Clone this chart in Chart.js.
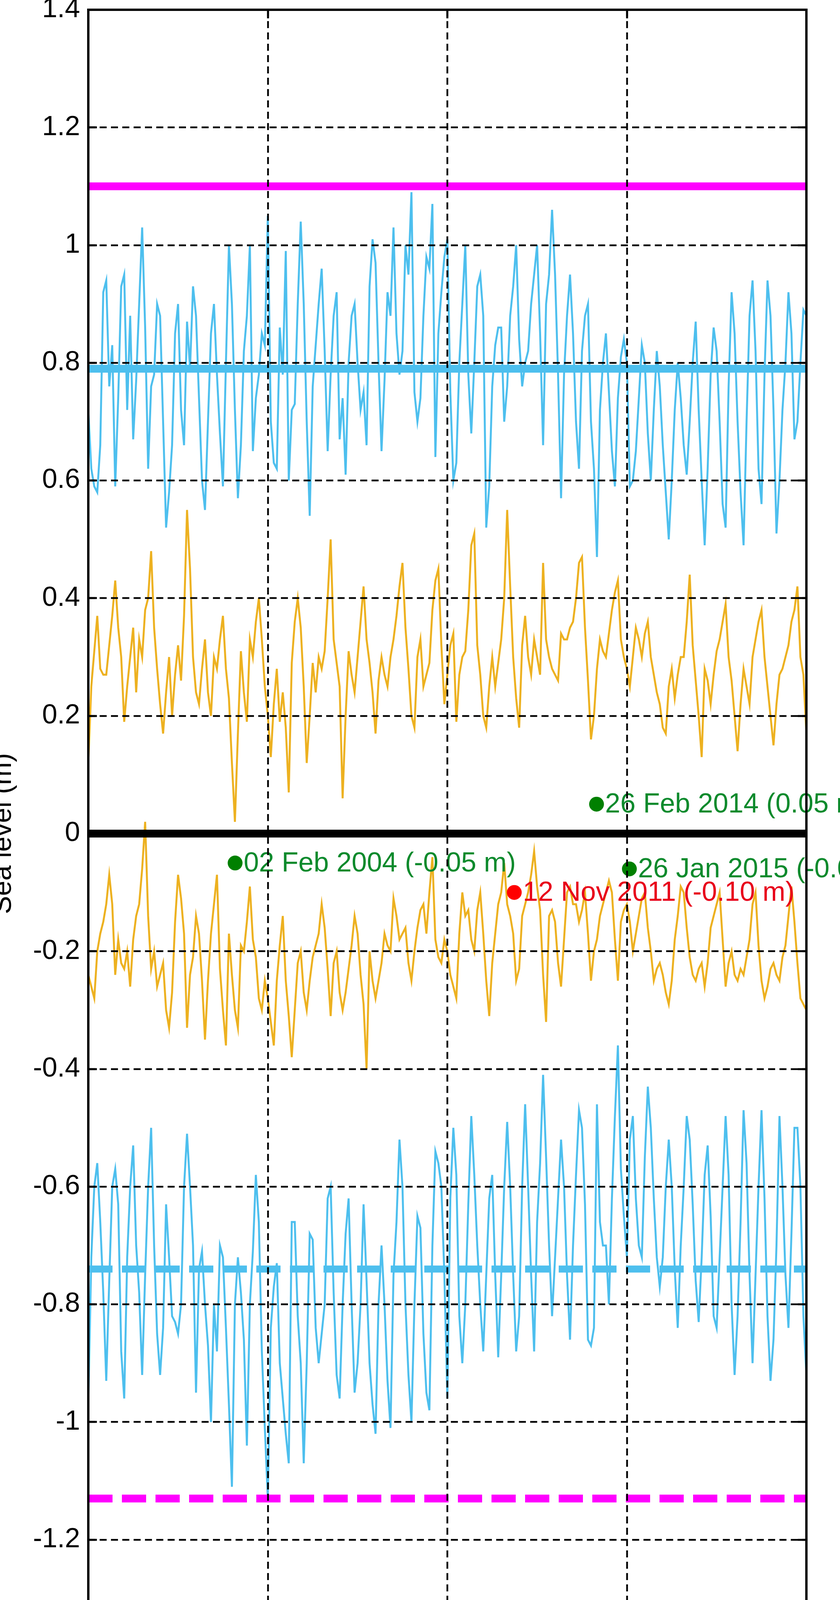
<!DOCTYPE html>
<html>
<head>
<meta charset="utf-8">
<title>Sea level</title>
<script src="https://cdn.jsdelivr.net/npm/chart.js@4.4.0/dist/chart.umd.min.js"></script>
<style>
  html, body { margin: 0; padding: 0; background: #fff; overflow: hidden; }
  canvas { display: block; }
</style>
</head>
<body>
<canvas id="seaChart" width="2150" height="4434"></canvas>
<script>
// axis ticks
const xTicks = [2000, 2005, 2010, 2015, 2020];
const yTicks = [-1.4, -1.2, -1, -0.8, -0.6, -0.4, -0.2, 0, 0.2, 0.4, 0.6, 0.8, 1, 1.2, 1.4];

// monthly values, Jan 2000 .. Jan 2020 (one row per year)
const startYear = 2000;
const highTide = [
  0.72, 0.62, 0.59, 0.58, 0.66, 0.92, 0.94, 0.76, 0.83, 0.59, 0.74, 0.93,
  0.95, 0.72, 0.88, 0.67, 0.77, 0.90, 1.03, 0.86, 0.62, 0.76, 0.78, 0.90,
  0.88, 0.70, 0.52, 0.58, 0.66, 0.85, 0.90, 0.72, 0.66, 0.87, 0.79, 0.93,
  0.88, 0.74, 0.60, 0.55, 0.70, 0.85, 0.90, 0.78, 0.68, 0.59, 0.80, 1.00,
  0.90, 0.72, 0.57, 0.66, 0.82, 0.88, 1.00, 0.65, 0.74, 0.78, 0.85, 0.83,
  1.05, 0.70, 0.63, 0.62, 0.86, 0.78, 0.99, 0.60, 0.72, 0.73, 0.90, 1.04,
  0.90, 0.70, 0.54, 0.76, 0.83, 0.90, 0.96, 0.82, 0.65, 0.78, 0.88, 0.92,
  0.67, 0.74, 0.61, 0.80, 0.88, 0.90, 0.80, 0.72, 0.75, 0.66, 0.93, 1.01,
  0.97, 0.80, 0.65, 0.77, 0.92, 0.88, 1.03, 0.85, 0.78, 0.82, 1.00, 0.95,
  1.09, 0.75, 0.70, 0.74, 0.88, 0.98, 0.96, 1.07, 0.64, 0.85, 0.92, 0.98,
  1.01, 0.75, 0.60, 0.63, 0.80, 0.90, 1.00, 0.78, 0.68, 0.80, 0.93, 0.95,
  0.88, 0.52, 0.59, 0.76, 0.83, 0.86, 0.86, 0.70, 0.76, 0.88, 0.93, 1.00,
  0.84, 0.76, 0.80, 0.82, 0.90, 0.95, 1.00, 0.85, 0.66, 0.90, 0.95, 1.06,
  0.95, 0.78, 0.57, 0.78, 0.88, 0.95, 0.85, 0.70, 0.62, 0.82, 0.88, 0.90,
  0.70, 0.62, 0.47, 0.72, 0.80, 0.85, 0.75, 0.65, 0.59, 0.74, 0.81, 0.84,
  0.80, 0.59, 0.60, 0.65, 0.74, 0.83, 0.80, 0.68, 0.60, 0.72, 0.82, 0.76,
  0.66, 0.58, 0.50, 0.60, 0.72, 0.80, 0.74, 0.66, 0.61, 0.70, 0.80, 0.87,
  0.72, 0.60, 0.49, 0.62, 0.78, 0.86, 0.82, 0.70, 0.56, 0.52, 0.76, 0.92,
  0.85, 0.70, 0.58, 0.49, 0.70, 0.88, 0.94, 0.82, 0.62, 0.56, 0.78, 0.94,
  0.88, 0.72, 0.51, 0.60, 0.72, 0.80, 0.92, 0.85, 0.67, 0.70, 0.80, 0.89,
  0.88
];
const highMean = [
  0.12, 0.25, 0.31, 0.37, 0.28, 0.27, 0.27, 0.32, 0.37, 0.43, 0.35, 0.30,
  0.19, 0.25, 0.30, 0.35, 0.24, 0.33, 0.30, 0.38, 0.40, 0.48, 0.35, 0.28,
  0.22, 0.17, 0.24, 0.30, 0.20, 0.27, 0.32, 0.26, 0.37, 0.55, 0.45, 0.30,
  0.24, 0.22, 0.28, 0.33, 0.24, 0.20, 0.30, 0.28, 0.33, 0.37, 0.28, 0.23,
  0.12, 0.02, 0.17, 0.31, 0.24, 0.19, 0.33, 0.30, 0.36, 0.40, 0.33, 0.25,
  0.20, 0.13, 0.22, 0.28, 0.19, 0.24, 0.18, 0.07, 0.29, 0.36, 0.40, 0.35,
  0.25, 0.12, 0.20, 0.29, 0.24, 0.30, 0.28, 0.31, 0.40, 0.50, 0.33, 0.29,
  0.25, 0.06, 0.20, 0.31, 0.27, 0.24, 0.30, 0.36, 0.42, 0.33, 0.29, 0.24,
  0.17, 0.26, 0.30, 0.27, 0.25, 0.30, 0.33, 0.37, 0.42, 0.46, 0.35, 0.28,
  0.20, 0.18, 0.30, 0.33, 0.25, 0.27, 0.29, 0.38, 0.43, 0.45, 0.32, 0.22,
  0.27, 0.32, 0.34, 0.19, 0.27, 0.30, 0.31, 0.38, 0.49, 0.51, 0.32, 0.27,
  0.20, 0.18, 0.25, 0.30, 0.25, 0.29, 0.33, 0.40, 0.55, 0.42, 0.30, 0.23,
  0.18, 0.32, 0.37, 0.30, 0.27, 0.33, 0.30, 0.27, 0.46, 0.33, 0.30, 0.28,
  0.27, 0.26, 0.34, 0.33, 0.33, 0.35, 0.36, 0.40, 0.46, 0.47, 0.35, 0.26,
  0.16, 0.20, 0.28, 0.33, 0.31, 0.30, 0.34, 0.38, 0.41, 0.43, 0.33, 0.30,
  0.28, 0.25, 0.30, 0.35, 0.33, 0.30, 0.34, 0.36, 0.30, 0.27, 0.24, 0.22,
  0.18, 0.17, 0.25, 0.28, 0.23, 0.27, 0.30, 0.30, 0.36, 0.44, 0.32, 0.26,
  0.20, 0.13, 0.28, 0.26, 0.22, 0.27, 0.31, 0.33, 0.36, 0.39, 0.30, 0.26,
  0.20, 0.14, 0.22, 0.28, 0.25, 0.22, 0.30, 0.33, 0.36, 0.38, 0.30, 0.25,
  0.20, 0.15, 0.22, 0.27, 0.28, 0.30, 0.32, 0.36, 0.38, 0.42, 0.30, 0.27,
  0.17
];
const lowMean = [
  -0.24, -0.26, -0.28, -0.20, -0.17, -0.15, -0.12, -0.07, -0.12, -0.24, -0.18, -0.22,
  -0.23, -0.20, -0.26, -0.18, -0.14, -0.12, -0.06, 0.02, -0.14, -0.23, -0.20, -0.26,
  -0.24, -0.22, -0.30, -0.33, -0.27, -0.15, -0.07, -0.11, -0.17, -0.33, -0.24, -0.21,
  -0.14, -0.17, -0.25, -0.35, -0.25, -0.17, -0.12, -0.07, -0.23, -0.30, -0.36, -0.17,
  -0.24, -0.30, -0.33, -0.19, -0.20, -0.15, -0.09, -0.18, -0.21, -0.28, -0.30, -0.25,
  -0.28, -0.32, -0.36, -0.25, -0.19, -0.14, -0.25, -0.31, -0.38, -0.30, -0.22, -0.20,
  -0.27, -0.30, -0.25, -0.21, -0.19, -0.17, -0.12, -0.16, -0.23, -0.31, -0.22, -0.20,
  -0.27, -0.30, -0.27, -0.23, -0.19, -0.14, -0.17, -0.24, -0.29, -0.40, -0.20, -0.25,
  -0.28, -0.25, -0.22, -0.17, -0.19, -0.20, -0.11, -0.14, -0.18, -0.17, -0.16, -0.22,
  -0.25, -0.20, -0.16, -0.13, -0.12, -0.17, -0.10, -0.04, -0.18, -0.21, -0.22, -0.18,
  -0.20, -0.24, -0.26, -0.28, -0.17, -0.10, -0.14, -0.13, -0.18, -0.20, -0.13, -0.10,
  -0.17, -0.25, -0.31, -0.22, -0.17, -0.12, -0.10, -0.05, -0.12, -0.14, -0.17, -0.25,
  -0.23, -0.14, -0.12, -0.10, -0.07, -0.03, -0.09, -0.13, -0.24, -0.32, -0.14, -0.13,
  -0.15, -0.22, -0.26, -0.18, -0.10, -0.09, -0.12, -0.12, -0.15, -0.13, -0.10, -0.17,
  -0.25, -0.20, -0.18, -0.14, -0.12, -0.10, -0.08, -0.10, -0.18, -0.25, -0.15, -0.13,
  -0.12, -0.15, -0.20, -0.17, -0.14, -0.11, -0.10, -0.16, -0.20, -0.25, -0.23, -0.22,
  -0.24, -0.27, -0.29, -0.25, -0.18, -0.14, -0.09, -0.10, -0.16, -0.21, -0.24, -0.25,
  -0.23, -0.22, -0.26, -0.22, -0.16, -0.14, -0.12, -0.10, -0.18, -0.26, -0.22, -0.20,
  -0.24, -0.25, -0.23, -0.24, -0.21, -0.18, -0.12, -0.10, -0.19, -0.25, -0.28, -0.26,
  -0.23, -0.22, -0.24, -0.25, -0.21, -0.19, -0.14, -0.09, -0.15, -0.22, -0.28, -0.29,
  -0.30
];
const lowTide = [
  -0.97, -0.72, -0.60, -0.56, -0.66, -0.78, -0.93, -0.76, -0.60, -0.57, -0.63, -0.88,
  -0.96, -0.72, -0.60, -0.53, -0.70, -0.78, -0.92, -0.75, -0.60, -0.50, -0.70, -0.85,
  -0.92, -0.84, -0.63, -0.72, -0.82, -0.83, -0.85, -0.80, -0.60, -0.51, -0.60, -0.70,
  -0.95, -0.74, -0.71, -0.80, -0.87, -1.00, -0.80, -0.88, -0.70, -0.72, -0.84, -0.97,
  -1.11, -0.80, -0.72, -0.78, -0.86, -1.04, -0.80, -0.71, -0.58, -0.66, -0.88, -1.01,
  -1.13, -0.84, -0.77, -0.73, -0.90, -0.96, -1.02, -1.07, -0.66, -0.66, -0.82, -0.90,
  -1.07, -0.90, -0.68, -0.69, -0.84, -0.90, -0.85, -0.80, -0.62, -0.60, -0.78, -0.92,
  -0.96, -0.80, -0.68, -0.62, -0.80, -0.95, -0.90, -0.80, -0.63, -0.76, -0.90, -0.97,
  -1.02, -0.80, -0.70, -0.80, -0.93, -1.01, -0.75, -0.66, -0.52, -0.60, -0.80, -0.92,
  -1.00, -0.80, -0.65, -0.67, -0.85, -0.95, -0.98, -0.70, -0.54, -0.56, -0.60, -0.75,
  -0.96, -0.62, -0.50, -0.58, -0.82, -0.90, -0.80, -0.63, -0.48, -0.58, -0.70, -0.80,
  -0.88, -0.75, -0.62, -0.58, -0.75, -0.89, -0.75, -0.60, -0.49, -0.60, -0.75, -0.88,
  -0.82, -0.60, -0.46, -0.60, -0.75, -0.88, -0.66, -0.56, -0.41, -0.55, -0.70, -0.82,
  -0.72, -0.62, -0.52, -0.60, -0.75, -0.86, -0.70, -0.58, -0.47, -0.50, -0.63, -0.86,
  -0.87, -0.84, -0.46, -0.66, -0.70, -0.70, -0.80, -0.62, -0.48, -0.36, -0.57, -0.65,
  -0.72, -0.52, -0.48, -0.62, -0.70, -0.72, -0.55, -0.43, -0.50, -0.62, -0.72, -0.77,
  -0.72, -0.60, -0.52, -0.60, -0.74, -0.84, -0.70, -0.60, -0.48, -0.52, -0.63, -0.76,
  -0.83, -0.72, -0.58, -0.53, -0.65, -0.82, -0.84, -0.72, -0.60, -0.48, -0.58, -0.80,
  -0.92, -0.82, -0.66, -0.47, -0.56, -0.75, -0.90, -0.75, -0.60, -0.47, -0.62, -0.82,
  -0.93, -0.86, -0.70, -0.48, -0.60, -0.75, -0.84, -0.68, -0.50, -0.50, -0.60, -0.82,
  -0.92
];

// reference levels (m)
const upperLimit = 1.10;
const meanHigh = 0.79;
const zeroLevel = 0;
const meanLow = -0.74;
const lowerLimit = -1.13;

// marked events
const eventDates = ['2004-02-02', '2014-02-26', '2015-01-26', '2011-11-12'];
const eventValues = [-0.05, 0.05, -0.06, -0.10];
const eventLabels = ['02 Feb 2004 (-0.05 m)', '26 Feb 2014 (0.05 m)', '26 Jan 2015 (-0.06 m)', '12 Nov 2011 (-0.10 m)'];
const eventIsRecord = [false, false, false, true];

const FONT = '"Liberation Sans", Arial, Helvetica, sans-serif';
const FS = 70;
const CYAN = '#4DBFEE';
const ORANGE = '#EDB120';
const MAGENTA = '#FF00FF';
const GREEN = '#008000';
const RED = '#FF0000';

function toDecimalYear(s) {
  const d = new Date(s + 'T12:00:00Z');
  const y = d.getUTCFullYear();
  const start = Date.UTC(y, 0, 1);
  const len = Date.UTC(y + 1, 0, 1) - start;
  return y + (d.getTime() - start) / len;
}

const monthly = arr => arr.map((v, i) => ({ x: startYear + i / 12, y: v }));
const level = v => [{ x: xTicks[0], y: v }, { x: xTicks[xTicks.length - 1], y: v }];
const eventX = eventDates.map(toDecimalYear);

function lineSet(data, color, width, dash) {
  return {
    type: 'line', data, borderColor: color, borderWidth: width,
    borderDash: dash || [], pointRadius: 0, tension: 0, fill: false
  };
}

const overlay = {
  id: 'overlay',
  afterDatasetsDraw(chart) {
    const { ctx, chartArea: a, scales: { x, y } } = chart;
    ctx.save();
    // event labels
    ctx.font = FS + 'px ' + FONT;
    ctx.textAlign = 'left';
    ctx.textBaseline = 'middle';
    eventLabels.forEach((t, i) => {
      ctx.fillStyle = eventIsRecord[i] ? '#E8001A' : '#0C8A2C';
      ctx.fillText(t, x.getPixelForValue(eventX[i]) + 22, y.getPixelForValue(eventValues[i]) + 2);
    });
    // dashed grid on top
    ctx.strokeStyle = '#000';
    ctx.lineWidth = 4.5;
    ctx.setLineDash([18, 11]);
    ctx.beginPath();
    xTicks.forEach(v => {
      const px = Math.round(x.getPixelForValue(v));
      ctx.moveTo(px, a.top); ctx.lineTo(px, a.bottom);
    });
    yTicks.forEach(v => {
      const py = Math.round(y.getPixelForValue(v));
      ctx.moveTo(a.left, py); ctx.lineTo(a.right, py);
    });
    ctx.stroke();
    ctx.setLineDash([]);
    // inward tick marks
    ctx.lineWidth = 5;
    ctx.beginPath();
    yTicks.forEach(v => {
      const py = Math.round(y.getPixelForValue(v));
      ctx.moveTo(a.left, py); ctx.lineTo(a.left + 22, py);
      ctx.moveTo(a.right, py); ctx.lineTo(a.right - 22, py);
    });
    xTicks.forEach(v => {
      const px = Math.round(x.getPixelForValue(v));
      ctx.moveTo(px, a.bottom); ctx.lineTo(px, a.bottom - 22);
      ctx.moveTo(px, a.top); ctx.lineTo(px, a.top + 22);
    });
    ctx.stroke();
    // frame
    ctx.lineWidth = 6;
    ctx.strokeRect(a.left, a.top, a.right - a.left, a.bottom - a.top);
    ctx.restore();
  },
  afterDraw(chart) {
    const { ctx, chartArea: a } = chart;
    ctx.save();
    ctx.fillStyle = '#000';
    ctx.font = FS + 'px ' + FONT;
    ctx.textAlign = 'center';
    ctx.textBaseline = 'alphabetic';
    ctx.fillText('Year', (a.left + a.right) / 2, 4415);
    ctx.translate(28, (a.top + a.bottom) / 2);
    ctx.rotate(-Math.PI / 2);
    ctx.fillText('Sea level (m)', 0, 0);
    ctx.restore();
  }
};

function pinScale(size, horizontal) {
  return scale => {
    if (horizontal) scale.height = size; else scale.width = size;
    scale.paddingTop = 0; scale.paddingBottom = 0;
    scale.paddingLeft = 0; scale.paddingRight = 0;
  };
}

const fmt = v => {
  const r = Math.round(v * 10) / 10;
  return (r === 0 ? 0 : r).toString();
};

new Chart(document.getElementById('seaChart').getContext('2d'), {
  data: {
    datasets: [
      {
        type: 'scatter',
        data: eventX.map((ex, i) => ({ x: ex, y: eventValues[i] })),
        pointRadius: 19, pointBorderWidth: 0,
        pointBackgroundColor: eventIsRecord.map(r => r ? RED : GREEN),
        clip: false
      },
      lineSet(level(zeroLevel), '#000', 20),
      lineSet(level(upperLimit), MAGENTA, 20),
      lineSet(level(lowerLimit), MAGENTA, 20, [62, 24]),
      lineSet(level(meanHigh), CYAN, 20),
      lineSet(level(meanLow), CYAN, 18, [62, 24]),
      lineSet(monthly(lowMean), ORANGE, 5),
      lineSet(monthly(highMean), ORANGE, 5),
      lineSet(monthly(lowTide), CYAN, 5),
      lineSet(monthly(highTide), CYAN, 5)
    ]
  },
  options: {
    responsive: false,
    animation: false,
    devicePixelRatio: 1,
    events: [],
    layout: { padding: { top: 25, right: 86, bottom: 0, left: 0 } },
    plugins: { legend: { display: false }, tooltip: { enabled: false } },
    scales: {
      x: {
        type: 'linear', min: xTicks[0], max: xTicks[xTicks.length - 1],
        grid: { display: false, drawTicks: false },
        border: { display: false },
        afterBuildTicks: s => { s.ticks = xTicks.map(v => ({ value: v })); },
        afterFit: pinScale(191, true),
        ticks: {
          maxRotation: 0, autoSkip: false, padding: 22, color: '#000',
          font: { family: FONT, size: FS },
          callback: v => String(v)
        }
      },
      y: {
        type: 'linear', min: yTicks[0], max: yTicks[yTicks.length - 1],
        grid: { display: false, drawTicks: false },
        border: { display: false },
        afterBuildTicks: s => { s.ticks = yTicks.map(v => ({ value: v })); },
        afterFit: pinScale(226, false),
        ticks: {
          autoSkip: false, padding: 21, color: '#000',
          font: { family: FONT, size: FS },
          callback: v => fmt(v)
        }
      }
    }
  },
  plugins: [overlay]
});
</script>
</body>
</html>
